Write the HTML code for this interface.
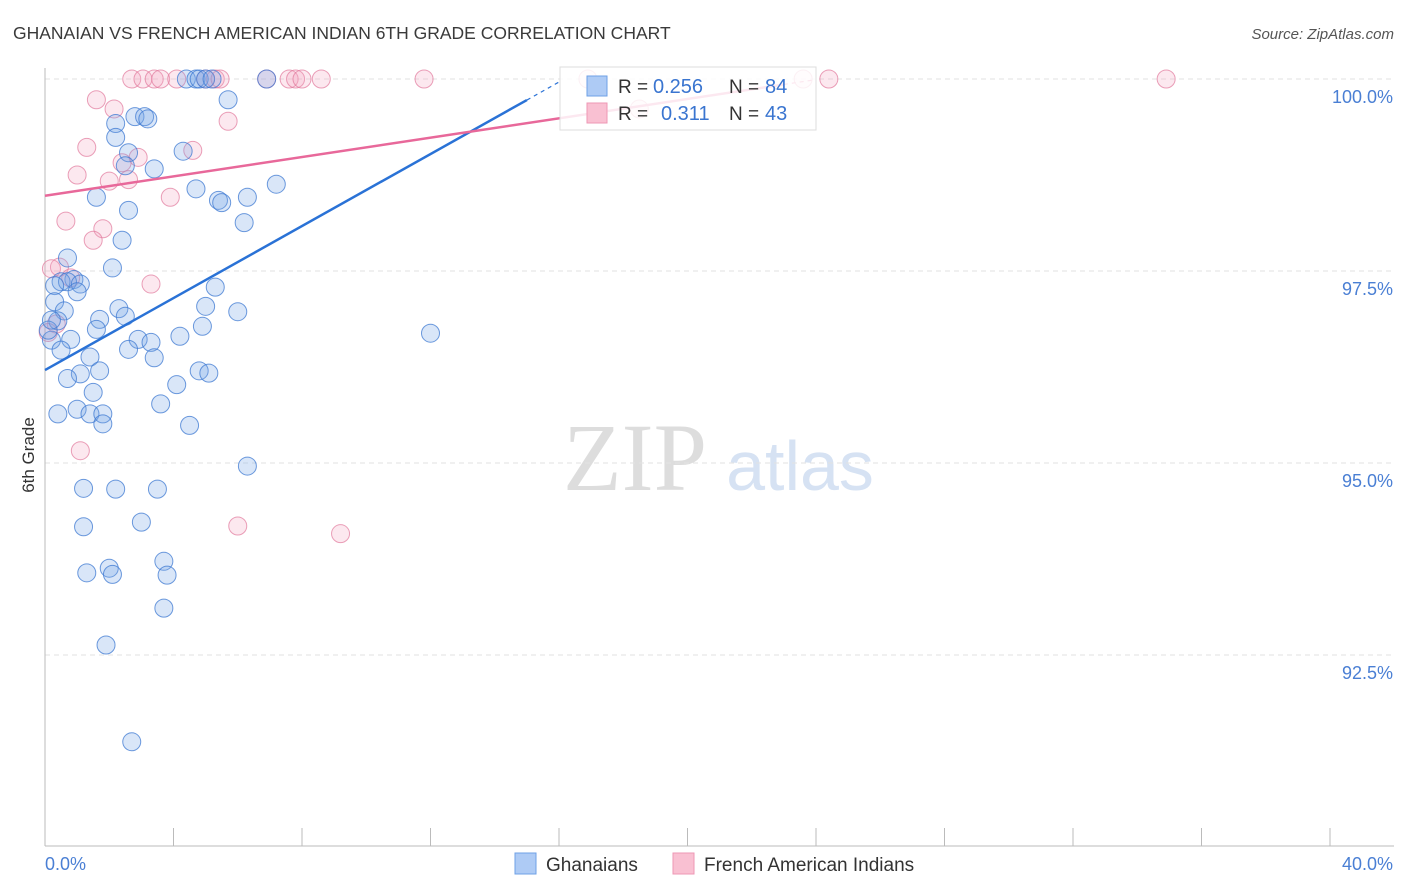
<!DOCTYPE html>
<html><head><meta charset="utf-8"><style>
body{margin:0;background:#fff;font-family:"Liberation Sans",sans-serif;}
#wrap{position:relative;width:1406px;height:892px;overflow:hidden}
</style></head><body>
<div id="wrap">
<svg id="chart" width="1406" height="892" xmlns="http://www.w3.org/2000/svg">
<text x="13" y="39" font-size="17.5" fill="#3a3a3a">GHANAIAN VS FRENCH AMERICAN INDIAN 6TH GRADE CORRELATION CHART</text>
<text x="1394" y="39" font-size="15" fill="#555" font-style="italic" text-anchor="end">Source: ZipAtlas.com</text>
<text x="34" y="455" font-size="17" fill="#333" transform="rotate(-90 34 455)" text-anchor="middle">6th Grade</text>
<text x="635" y="490" font-size="96" fill="#ddd" font-family="Liberation Serif,serif" text-anchor="middle">ZIP</text>
<text x="800" y="490" font-size="70" fill="#d6e2f3" text-anchor="middle">atlas</text>
<g id="grid"></g><g id="axes"></g><g id="pts"></g><g id="lines"></g><g id="legend"></g>
</svg></div>
<script>
const blueX=[4.4,4.7,4.8,5.0,5.2,6.9,5.7,2.8,3.1,3.2,2.2,2.2,2.6,4.3,2.5,3.4,4.7,1.6,5.4,5.5,6.3,7.2,2.6,6.2,2.4,0.7,2.1,0.9,0.5,0.7,1.1,1.0,0.3,0.3,2.3,5.0,5.3,6.0,0.6,1.7,2.5,0.4,1.6,4.9,4.2,2.9,3.3,0.8,0.2,0.5,2.6,12.0,3.4,1.4,4.8,5.1,1.1,1.7,0.7,4.1,1.5,3.6,1.0,0.4,1.4,1.8,1.8,4.5,6.3,1.2,2.2,3.5,1.2,3.0,3.7,2.0,1.3,2.1,3.8,3.7,1.9,2.7,0.1,0.2];
const blueY=[100,100,100,100,100,100,99.73,99.51,99.51,99.48,99.42,99.24,99.04,99.06,98.87,98.83,98.57,98.46,98.42,98.39,98.46,98.63,98.29,98.13,97.90,97.67,97.54,97.39,97.36,97.36,97.33,97.23,97.31,97.10,97.01,97.04,97.29,96.97,96.98,96.87,96.91,96.85,96.74,96.78,96.65,96.61,96.57,96.61,96.60,96.47,96.48,96.69,96.37,96.38,96.20,96.17,96.16,96.20,96.10,96.02,95.92,95.77,95.70,95.64,95.64,95.64,95.51,95.49,94.96,94.67,94.66,94.66,94.17,94.23,93.72,93.63,93.57,93.55,93.54,93.11,92.63,91.37,96.73,96.86];
const pinkX=[2.7,3.05,3.4,3.6,4.1,5.0,5.3,5.45,6.9,7.6,7.8,8.0,8.6,11.8,16.9,23.6,24.4,34.9,1.6,2.15,5.7,1.3,4.6,2.9,2.4,1.0,2.0,2.6,3.9,0.65,1.8,1.5,0.45,0.2,3.3,0.35,0.1,1.1,6.0,9.2,18.5,0.8];
const pinkY=[100,100,100,100,100,100,100,100,100,100,100,100,100,100,100,100,100,100,99.73,99.61,99.45,99.11,99.07,98.98,98.91,98.75,98.67,98.69,98.46,98.15,98.05,97.90,97.55,97.53,97.33,96.81,96.70,95.16,94.18,94.08,99.61,97.41];
const blueTrend=[96.21,0.2344];
const pinkTrend=[98.48,0.063];
const xTicks=[0,4,8,12,16,20,24,28,32,36,40];
const yTicks=[100,97.5,95,92.5];
const yTickLabels=["100.0%","97.5%","95.0%","92.5%"];
const NS="http://www.w3.org/2000/svg";
const X=v=>45+v/40*1285, Y=v=>79+(100-v)/2.5*192;
function mk(tag,attrs,parent){const e=document.createElementNS(NS,tag);for(const k in attrs)e.setAttribute(k,attrs[k]);document.getElementById(parent).appendChild(e);return e;}
yTicks.forEach((t,i)=>{
 const l=mk('line',{x1:45,x2:1394,y1:Y(t),y2:Y(t),stroke:'#e2e2e2','stroke-dasharray':'5,4'},'grid');
 
 
 const tx=mk('text',{x:1393,y:Y(t)+24,'font-size':18,fill:'#4a7fd4','text-anchor':'end'},'axes');tx.textContent=yTickLabels[i];
 
 
});
const ax=mk('line',{x1:45,x2:45,y1:68,y2:846,stroke:'#bbb'},'axes');


const bx=mk('line',{x1:45,x2:1394,y1:846,y2:846,stroke:'#bbb'},'axes');


xTicks.forEach(t=>{const l=mk('line',{x1:X(t),x2:X(t),y1:828,y2:846,stroke:'#bbb'},'axes');
 
 });
[[0,'0.0%','start',45],[40,'40.0%','end',1393]].forEach(a=>{const t=mk('text',{x:a[3],y:870,'font-size':18,fill:'#4a7fd4','text-anchor':a[2]},'axes');t.textContent=a[1];
 
 });
function dots(xs,ys,fill,stroke,name){xs.forEach((x,i)=>{const c=mk('circle',{cx:X(x),cy:Y(ys[i]),r:9,fill:fill,stroke:stroke,'stroke-width':1},'pts');
 
 });}
dots(pinkX,pinkY,'rgba(245,165,190,0.25)','rgba(225,120,155,0.7)','french-american-indian-point');
dots(blueX,blueY,'rgba(120,165,230,0.28)','rgba(60,120,210,0.75)','ghanaian-point');
function trend(tr,xEnd,xDash,color,name){
 const l=mk('line',{x1:X(0),y1:Y(tr[0]),x2:X(xEnd),y2:Y(tr[0]+tr[1]*xEnd),stroke:color,'stroke-width':2.5},'lines');
 
 
 const d=mk('line',{x1:X(xEnd),y1:Y(tr[0]+tr[1]*xEnd),x2:X(xDash),y2:Y(tr[0]+tr[1]*xDash),stroke:color,'stroke-width':1.2,'stroke-dasharray':'4,4'},'lines');
 
 
}
trend(blueTrend,15.0,16.0,'#2a72d6','ghanaian-trendline');
trend(pinkTrend,23.0,24.0,'#e8689a','french-american-indian-trendline');
const lg=mk('rect',{x:560,y:67,width:256,height:63,fill:'rgba(255,255,255,0.85)',stroke:'#ddd'},'legend');


[[86,'#aecbf5','#6fa0e6','0.256','84','R = ',653],[113,'#f9c0d2','#ee97b4','0.311','43','R = ',661]].forEach(r=>{
 const s=mk('rect',{x:587,y:r[0]-10,width:20,height:20,fill:r[1],stroke:r[2]},'legend');
 
 
 const t=mk('text',{x:618,y:r[0]+7,'font-size':19,fill:'#333'},'legend');t.textContent=r[5];
 
 
 const v=mk('text',{x:r[6],y:r[0]+7,'font-size':20,fill:'#3a75d0'},'legend');v.textContent=r[3];
 
 
 const n=mk('text',{x:729,y:r[0]+7,'font-size':19,fill:'#333'},'legend');n.textContent='N = ';
 
 
 const nv=mk('text',{x:765,y:r[0]+7,'font-size':20,fill:'#3a75d0'},'legend');nv.textContent=r[4];
 
 
});
[[515,'#aecbf5','#6fa0e6','Ghanaians',546],[673,'#f9c0d2','#ee97b4','French American Indians',704]].forEach(b=>{
 const s=mk('rect',{x:b[0],y:853,width:21,height:21,fill:b[1],stroke:b[2]},'legend');
 
 
 const t=mk('text',{x:b[4],y:871,'font-size':19,fill:'#333'},'legend');t.textContent=b[3];
 
 
});
</script>
</body></html>
